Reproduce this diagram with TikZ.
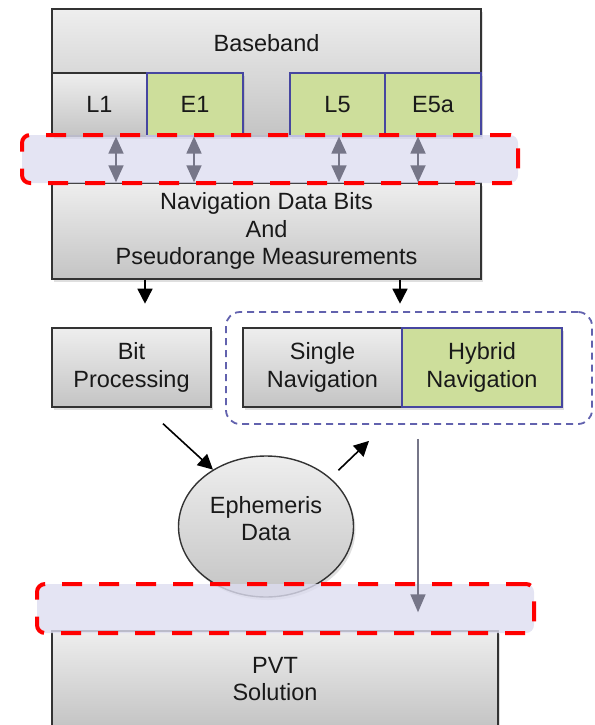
\documentclass[tikz,border=0pt]{standalone}
\usepackage{fontspec}
\setmainfont{Liberation Sans}
\usetikzlibrary{arrows.meta,shadows,shapes.geometric,calc}
\definecolor{gc}{RGB}{205,222,155}
\definecolor{bc}{RGB}{70,70,160}
\definecolor{lav}{RGB}{221,221,240}
\definecolor{tc}{RGB}{238,238,238}
\definecolor{bt}{RGB}{196,196,196}
\definecolor{ac}{RGB}{118,118,136}
\tikzset{g/.style={draw=black!80,line width=1.4pt,top color=tc,bottom color=bt,inner sep=0pt,align=center,
  drop shadow={shadow xshift=2pt,shadow yshift=-3pt,opacity=.25}},
 gn/.style={g,draw=bc,line width=1.2pt,top color=gc,bottom color=gc},
 band/.style={draw=red,line width=4pt,dash pattern=on 20pt off 17pt,fill=lav,fill opacity=.8,rounded corners=8pt},
 grp/.style={draw=bc!85,line width=1.8pt,dash pattern=on 7pt off 5pt,rounded corners=14pt},
 arr/.style={-{Triangle[length=15pt,width=15pt]},line width=1.6pt},
 darr/.style={{Triangle[length=17pt,width=15pt]}-{Triangle[length=17pt,width=15pt]},draw=ac,line width=1.8pt},
 varr/.style={-{Triangle[length=18pt,width=15pt]},draw=ac,line width=1.5pt},
 every node/.style={font=\fontsize{23.5}{27.5}\selectfont,text=black!90}}
\begin{document}
\begin{tikzpicture}[x=1pt,y=-1pt]
\useasboundingbox (0,0) rectangle (594,725);
\node[g,minimum width=429pt,minimum height=127pt] (bb) at (266.5,72.5) {};
\node (bbt) at (266.5,43) {Baseband};
\node[g,minimum width=95pt,minimum height=63pt] (l1) at (99.5,104.5) {L1};
\node[gn,minimum width=96pt,minimum height=63pt] (e1) at (195,104.5) {E1};
\node[gn,minimum width=95pt,minimum height=63pt] (l5) at (337.5,104.5) {L5};
\node[gn,minimum width=96pt,minimum height=63pt] (e5) at (433,104.5) {E5a};
\node[g,minimum width=429pt,minimum height=96pt] (nav) at (266.5,231) {Navigation Data Bits\\And\\Pseudorange Measurements};
\node[band,minimum width=496pt,minimum height=48pt] (b1) at (270,159) {};
\foreach \n/\d in {l1/16.5,e1/-1,l5/1.5,e5/-15}{\draw[darr] ($(\n.south)+(\d,0)$)--($(\n.south |- nav.north)+(\d,0)$);}
\draw[arr] ($(nav.south)+(-121.5,0)$)--++(0,24);\draw[arr] ($(nav.south)+(133.5,0)$)--++(0,24);
% lower part
\node[g,minimum width=159pt,minimum height=79pt] (bit) at (131.5,367.5) {Bit\\Processing};
\node[g,minimum width=159pt,minimum height=79pt] (sn) at (322.5,367.5) {Single\\Navigation};
\node[gn,minimum width=160pt,minimum height=79pt] (hn) at (482,367.5) {Hybrid\\Navigation};
\node[grp,minimum width=366pt,minimum height=112pt] (grp) at (409,368) {};
\node[g,ellipse,minimum width=175pt,minimum height=141pt] (eph) at (266,526.5) {};
\node (epht) at (266,518.5) [align=center] {Ephemeris\\Data};
\draw[arr] ($(bit.south)+(31.5,16)$)--(eph.133);
\draw[arr,shorten <=11pt] (eph.37)--($(grp.south)+(-40,16)$);
\node[g,minimum width=446pt,minimum height=96pt] (pvt) at (275,679) {PVT\\Solution};
\node[band,minimum width=497pt,minimum height=49pt] (b2) at (285.5,608.5) {};
\draw[varr] ($(grp.south)+(9,14)$)--($(grp.south |- pvt.north)+(9,-18)$);
\end{tikzpicture}
\end{document}
